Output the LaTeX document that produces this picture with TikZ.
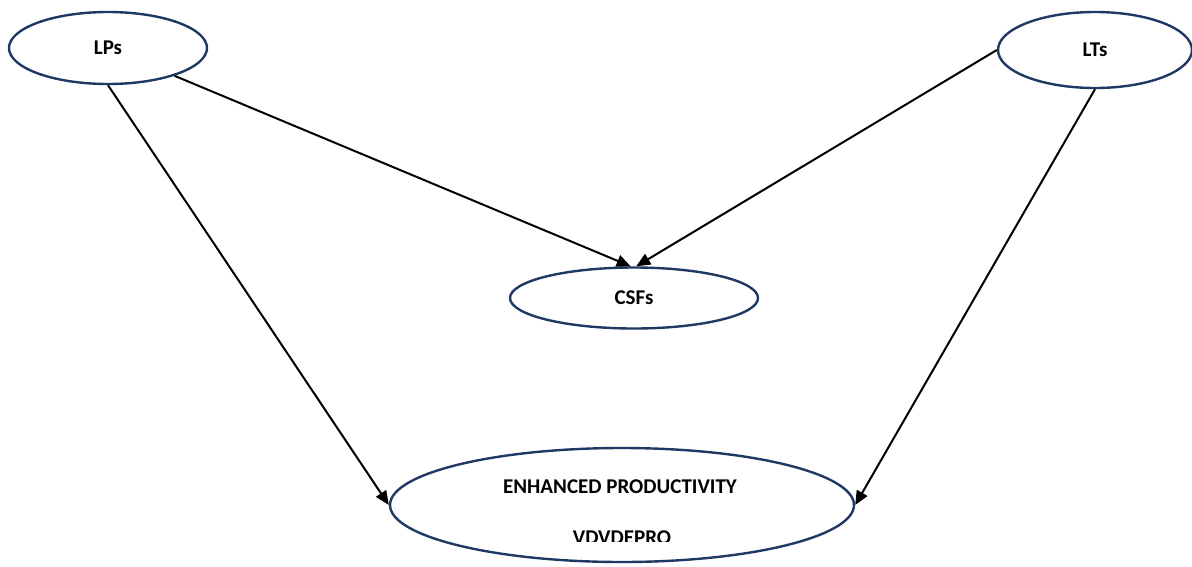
\documentclass[tikz,border=0pt]{standalone}
\usepackage{fontspec}
\setmainfont{Carlito}
\usetikzlibrary{shapes.geometric,arrows.meta,calc}
\definecolor{navy}{HTML}{203864}
\begin{document}
\begin{tikzpicture}[x=1pt,y=-1pt,
  oval/.style={ellipse,draw=navy,line width=2.4pt,fill=white,inner sep=0pt,font=\fontsize{21}{25}\selectfont\bfseries},
  lbl/.style={font=\fontsize{21}{25}\selectfont\bfseries,inner sep=0pt,anchor=base},
  link/.style={line width=2pt,-{Triangle[length=14pt,width=12pt]}}]
\useasboundingbox (0,0) rectangle (1192,566);
\node[oval,minimum width=198pt,minimum height=72pt] (LPs) at (108,48) {LPs};
\node[oval,minimum width=194pt,minimum height=76pt] (LTs) at (1095,50) {LTs};
\node[oval,minimum width=248pt,minimum height=61pt] (CSFs) at (634,298) {CSFs};
\node[oval,minimum width=464pt,minimum height=114pt] (EP) at (622,505) {};
\begin{scope}
\clip (380,440) rectangle (870,541.5);
\node[lbl] (ep1) at (620,493) {ENHANCED PRODUCTIVITY};
\node[lbl] (ep2) at (622,544) {VDVDEPRO};
\end{scope}
\draw[link] (LPs) -- (CSFs.96);
\draw[link] (LTs.west) -- (CSFs.86);
\draw[link] (LPs.south) -- (EP.west);
\draw[link] (LTs.south) -- (EP.east);
\end{tikzpicture}
\end{document}
